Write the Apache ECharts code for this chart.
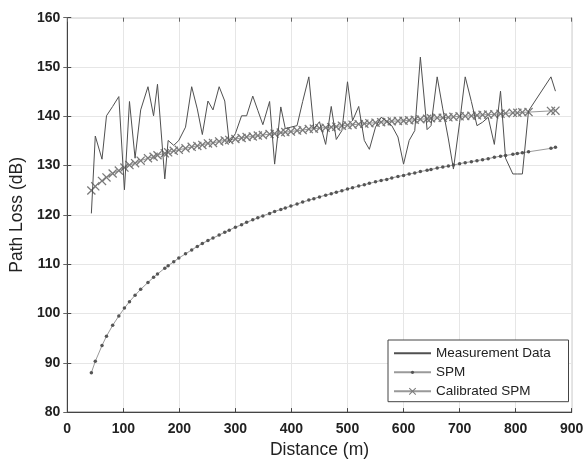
<!DOCTYPE html>
<html>
<head>
<meta charset="utf-8">
<script src="https://cdn.jsdelivr.net/npm/echarts@6/dist/echarts.min.js"></script>
<style>
html,body{margin:0;padding:0;background:#fff;}
#chart{width:587px;height:464px;}
</style>
</head>
<body>
<div id="chart"></div>
<script>
// Distances (m)
var distance = [43,50,62,70,81,92,102,111,121,131,
  144,154,161,174,180,190,199,211,222,232,
  241,251,260,271,281,289,300,311,320,331,
  340,349,361,370,381,389,399,410,420,431,
  440,450,461,471,480,490,500,509,520,530,
  539,550,560,570,579,590,600,610,620,630,
  642,649,660,670,680,689,700,710,721,731,
  741,751,762,773,782,795,803,812,823,863,
  871];
// Measurement Data (dB)
var measured = [120.3,136,131.3,140.1,142,144,125.1,143,131.5,141.3,
  146,140.1,146.5,127.3,135.1,134.1,135.1,137.8,146,141.5,
  136.3,143.1,141.3,146,143.1,134.6,136.5,140.1,140.1,144.1,
  141.2,138.3,143,130.3,141.9,137.5,137.8,138.1,143,148,
  137.5,138.9,134.3,142,135.3,137.1,147,139.1,142,135.1,
  133.3,137.8,139.8,139,138.1,135.8,130.3,135.1,137.1,152,
  137.3,138.1,148,141.5,135.4,129.3,138.7,148,143,138.1,
  138.8,139.8,134.3,145.1,131.5,128.3,128.3,128.3,141.1,148,
  145.1];
// SPM (dB)
var spm = [88.0,90.3,93.5,95.4,97.6,99.5,101.1,102.4,103.7,104.9,
  106.3,107.35,108.0,109.2,109.7,110.5,111.25,112.1,112.9,113.6,
  114.2,114.8,115.3,115.9,116.5,116.9,117.5,118.0,118.5,119.0,
  119.4,119.8,120.3,120.7,121.1,121.4,121.8,122.2,122.6,123.0,
  123.3,123.65,124.0,124.3,124.6,124.9,125.25,125.5,125.85,126.1,
  126.4,126.7,127.0,127.2,127.5,127.8,128.0,128.3,128.5,128.8,
  129.05,129.2,129.5,129.7,129.9,130.1,130.4,130.6,130.8,131.0,
  131.2,131.4,131.7,131.9,132.05,132.3,132.45,132.6,132.8,133.5,
  133.7];
// Calibrated SPM (dB)
var calibrated = [124.95,125.8,126.9,127.6,128.4,129.0,129.6,130.1,130.5,131.0,
  131.5,131.8,132.1,132.5,132.7,133.0,133.2,133.5,133.8,134.0,
  134.2,134.5,134.6,134.9,135.1,135.2,135.4,135.6,135.8,135.9,
  136.1,136.2,136.4,136.5,136.7,136.8,136.9,137.1,137.2,137.4,
  137.5,137.6,137.7,137.8,137.9,138.1,138.2,138.3,138.4,138.5,
  138.6,138.7,138.8,138.9,139.0,139.05,139.1,139.2,139.3,139.4,
  139.5,139.6,139.7,139.7,139.8,139.9,140.0,140.05,140.1,140.2,
  140.3,140.35,140.4,140.5,140.6,140.7,140.7,140.8,140.85,141.1,
  141.15];
var seriesNames = ['Measurement Data','SPM','Calibrated SPM'];
var xTitle = 'Distance (m)';
var yTitle = 'Path Loss (dB)';

function pairs(ys){ return distance.map(function(d,i){ return [d, ys[i]]; }); }

var FONT = "'Liberation Sans', Arial, sans-serif";
var xMark = 'path://M0,1L1,0L5,4L9,0L10,1L6,5L10,9L9,10L5,6L1,10L0,9L4,5Z';
var legendText = {fontFamily: FONT, fontSize: 13.5, color: '#222', lineHeight: 19};

var chart = echarts.init(document.getElementById('chart'), null, {renderer:'canvas'});
chart.setOption({
  animation: false,
  backgroundColor: '#ffffff',
  grid: {left: 66.7, right: 15.3, top: 17.7, bottom: 46.7, show: true,
         borderColor: '#666', borderWidth: 1, backgroundColor: 'transparent'},
  legend: [{
    data: [{name: seriesNames[0], itemStyle: {opacity: 0, color: 'rgba(0,0,0,0)', borderWidth: 0}},
           {name: seriesNames[1]}],
    orient: 'vertical',
    left: 388, top: 340,
    padding: [3.8, 17.7, 19.9, 5],
    itemGap: 0,
    itemWidth: 37,
    itemHeight: 4,
    backgroundColor: '#fff',
    borderColor: '#444',
    borderWidth: 1,
    borderRadius: 0,
    z: 5,
    textStyle: legendText
  },{
    data: [seriesNames[2]],
    orient: 'vertical',
    left: 393, top: 381.8,
    padding: 0,
    itemGap: 0,
    itemWidth: 37,
    itemHeight: 9,
    backgroundColor: 'transparent',
    borderWidth: 0,
    z: 6,
    textStyle: legendText
  }],
  xAxis: [{
    type: 'value', min: 0, max: 900, interval: 100,
    name: xTitle, nameLocation: 'middle', nameGap: 28,
    nameTextStyle: {fontFamily: FONT, fontSize: 17.5, color: '#222'},
    axisLine: {show: true, lineStyle: {color: '#444', width: 1}},
    axisTick: {show: true, inside: true, length: 4, lineStyle: {color: '#444'}},
    axisLabel: {fontFamily: FONT, fontSize: 14, fontWeight: 'bold', color: '#222', margin: 10},
    splitLine: {show: true, lineStyle: {color: '#e6e6e6', width: 1}}
  },{
    type: 'value', min: 0, max: 900, interval: 100, position: 'top',
    axisLine: {show: false},
    axisTick: {show: true, inside: true, length: 4, lineStyle: {color: '#666'}},
    axisLabel: {show: false}, splitLine: {show: false}
  }],
  yAxis: [{
    type: 'value', min: 80, max: 160, interval: 10,
    name: yTitle, nameLocation: 'middle', nameGap: 33, nameRotate: 90,
    nameTextStyle: {fontFamily: FONT, fontSize: 17.5, color: '#222'},
    axisLine: {show: true, lineStyle: {color: '#444', width: 1}},
    axisTick: {show: true, inside: true, length: 4, lineStyle: {color: '#444'}},
    axisLabel: {fontFamily: FONT, fontSize: 14, fontWeight: 'bold', color: '#222', margin: 7},
    splitLine: {show: true, lineStyle: {color: '#e6e6e6', width: 1}}
  },{
    type: 'value', min: 80, max: 160, interval: 10, position: 'right',
    axisLine: {show: false},
    axisTick: {show: true, inside: true, length: 4, lineStyle: {color: '#666'}},
    axisLabel: {show: false}, splitLine: {show: false}
  }],
  series: [{
    name: seriesNames[0], type: 'line', data: pairs(measured),
    symbol: 'none', z: 3,
    lineStyle: {color: '#505050', width: 1},
    itemStyle: {color: '#505050'}
  },{
    name: seriesNames[1], type: 'line', data: pairs(spm),
    symbol: 'circle', symbolSize: 3.5, showSymbol: true, z: 2,
    lineStyle: {color: '#9a9a9a', width: 1},
    itemStyle: {color: '#555'}
  },{
    name: seriesNames[2], type: 'line', data: pairs(calibrated),
    symbol: xMark, symbolSize: 9, showSymbol: true, z: 2,
    lineStyle: {color: '#999', width: 1},
    itemStyle: {color: '#7a7a7a'}
  }]
});
</script>
</body>
</html>
